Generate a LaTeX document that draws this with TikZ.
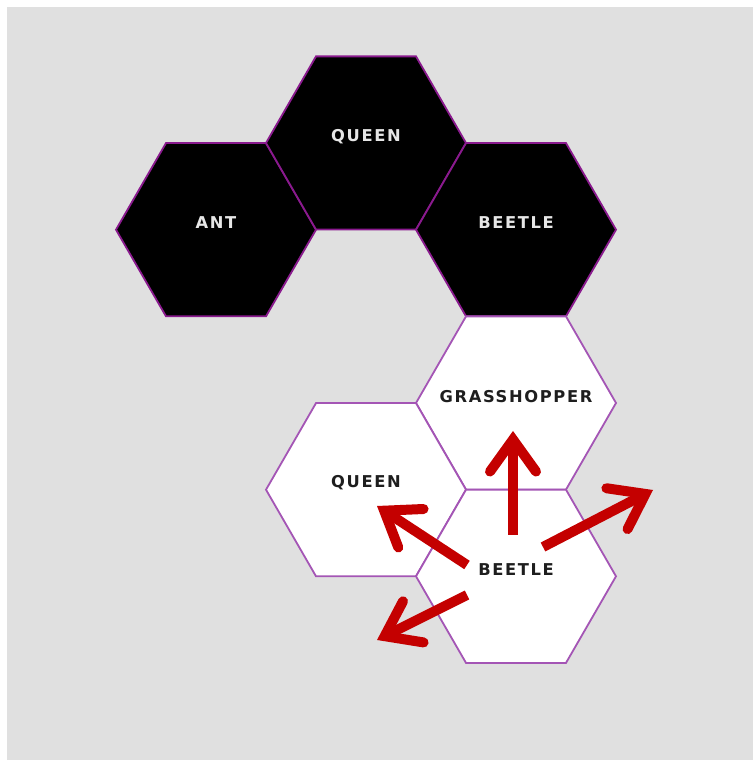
\documentclass[tikz,border=0pt]{standalone}
\usepackage{fontspec}
\usetikzlibrary{arrows.meta}
\newfontfamily\lblfont{DejaVu Sans Bold}[LetterSpace=10]
\definecolor{bggray}{HTML}{E0E0E0}
\definecolor{darkstroke}{HTML}{8A1A8E}
\definecolor{lightstroke}{HTML}{A455B5}
\definecolor{arrowred}{HTML}{C40000}
\definecolor{lighttext}{HTML}{E6E6E6}
\definecolor{darktext}{HTML}{1E1E1E}
\tikzset{
  hex/.pic={\path[pic actions] (0:100) -- (60:100) -- (120:100) -- (180:100) -- (240:100) -- (300:100) -- cycle;},
  hexblack/.style={fill=black, draw=darkstroke, line width=1.8pt, line join=miter},
  hexwhite/.style={fill=white, draw=lightstroke, line width=1.8pt, line join=miter},
  lblblack/.style={font=\lblfont\fontsize{16.3}{18}\selectfont, text=lighttext, inner sep=0pt},
  lblwhite/.style={font=\lblfont\fontsize{16.3}{18}\selectfont, text=darktext, inner sep=0pt},
  movearrow/.style={draw=arrowred, line width=10pt, line cap=butt,
    -{Straight Barb[length=32pt, width=46pt, line width=10pt, line cap=round, line join=miter]}}
}
\begin{document}
\begin{tikzpicture}[x=1pt, y=1pt]
\useasboundingbox (0,0) rectangle (753,760);
\fill[bggray] (7,0) rectangle (753,753);
% black hexes
\pic[hexblack] at (216,530.3) {hex};
\pic[hexblack] at (366,617) {hex};
\pic[hexblack] at (516,530.3) {hex};
% white hexes
\pic[hexwhite] at (516,357) {hex};
\pic[hexwhite] at (366,270.3) {hex};
\pic[hexwhite] at (516,183.7) {hex};
% labels
\node[lblblack] (ant) at (216,537.5) {ANT};
\node[lblblack] (queenb) at (366,623) {QUEEN};
\node[lblblack] (beetleb) at (516,537.5) {BEETLE};
\node[lblwhite] (grass) at (516,363.5) {GRASSHOPPER};
\node[lblwhite] (queenw) at (366,277) {QUEEN};
\node[lblwhite] (beetlew) at (516,190.5) {BEETLE};
% arrows
\coordinate (s1) at (513,225); \coordinate (t1) at (513,329);
\coordinate (s2) at (543,213); \coordinate (t2) at (653,270);
\coordinate (s3) at (467,195); \coordinate (t3) at (377,254);
\coordinate (s4) at (467,165); \coordinate (t4) at (377,120);
\draw[movearrow] (s1) -- (t1);
\draw[movearrow] (s2) -- (t2);
\draw[movearrow] (s3) -- (t3);
\draw[movearrow] (s4) -- (t4);
\end{tikzpicture}
\end{document}
